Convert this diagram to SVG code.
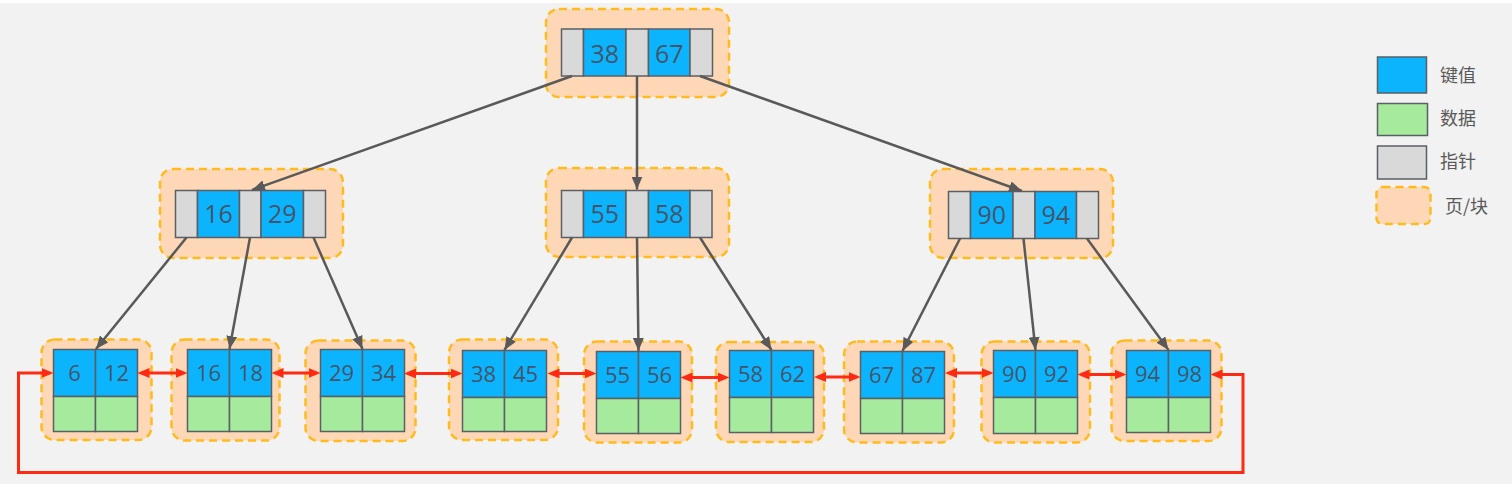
<svg xmlns="http://www.w3.org/2000/svg" width="1512" height="484" viewBox="0 0 1512 484">
<defs>
<style>
.page{fill:#fed8b6;stroke:#ffba1e;stroke-width:2.5;stroke-dasharray:8 5}
.k{fill:#0cb4fd;stroke:#5a5f66;stroke-width:1.5}
.d{fill:#a6eb9d;stroke:#5a5f66;stroke-width:1.5}
.p{fill:#d9d9d9;stroke:#5a5f66;stroke-width:1.5}
.t{font-family:"Open Sans","Liberation Sans",sans-serif;font-size:25px;fill:#44546a;text-anchor:middle}
.lt{font-family:"Open Sans","Liberation Sans",sans-serif;font-size:22px;fill:#44546a;text-anchor:middle}
.lg{font-family:"Noto Sans CJK SC",sans-serif;font-size:18px;fill:#595959}
.ga{fill:none;stroke:#595959;stroke-width:2.5;marker-end:url(#ag)}
.ra{fill:none;stroke:#ff2a14;stroke-width:3;marker-start:url(#ar);marker-end:url(#ar)}
</style>
<marker id="ag" viewBox="0 0 13 11" refX="13" refY="5.5" markerWidth="13" markerHeight="11" markerUnits="userSpaceOnUse" orient="auto"><path d="M0,0 L13,5.5 L0,11 z" fill="#595959"/></marker>
<marker id="ar" viewBox="0 0 12 10" refX="8" refY="5" markerWidth="12" markerHeight="10" markerUnits="userSpaceOnUse" orient="auto-start-reverse"><path d="M0,0 L12,5 L0,10 z" fill="#ff2a14"/></marker>
</defs>
<rect x="0" y="0" width="1512" height="484" fill="#f2f2f2"/>
<rect x="0" y="0" width="1512" height="3" fill="#ffffff"/>

<g id="root">
<rect class="page" x="546" y="9" width="183" height="88" rx="13"/>
<rect class="p" x="561.5" y="29" width="22" height="47"/>
<rect class="k" x="583.5" y="29" width="42.5" height="47"/>
<rect class="p" x="626" y="29" width="22.5" height="47"/>
<rect class="k" x="648.5" y="29" width="41.5" height="47"/>
<rect class="p" x="690" y="29" width="22.5" height="47"/>
<text class="t" x="604.7" y="62.5">38</text>
<text class="t" x="669.2" y="62.5">67</text>
</g>

<g id="n16-29">
<rect class="page" x="160" y="169" width="183" height="89" rx="13"/>
<rect class="p" x="175.5" y="190.5" width="22" height="47"/>
<rect class="k" x="197.5" y="190.5" width="42" height="47"/>
<rect class="p" x="239.5" y="190.5" width="21.5" height="47"/>
<rect class="k" x="261" y="190.5" width="42.5" height="47"/>
<rect class="p" x="303.5" y="190.5" width="22" height="47"/>
<text class="t" x="218.5" y="222.5">16</text>
<text class="t" x="282.2" y="222.5">29</text>
</g>

<g id="n55-58">
<rect class="page" x="546" y="168" width="183" height="89" rx="13"/>
<rect class="p" x="561.5" y="190.5" width="22" height="47"/>
<rect class="k" x="583.5" y="190.5" width="42.5" height="47"/>
<rect class="p" x="626" y="190.5" width="22.5" height="47"/>
<rect class="k" x="648.5" y="190.5" width="41.5" height="47"/>
<rect class="p" x="690" y="190.5" width="22" height="47"/>
<text class="t" x="604.7" y="222.5">55</text>
<text class="t" x="669.2" y="222.5">58</text>
</g>

<g id="n90-94">
<rect class="page" x="930" y="169" width="183" height="89" rx="13"/>
<rect class="p" x="948.5" y="191.5" width="22" height="47"/>
<rect class="k" x="970.5" y="191.5" width="42.5" height="47"/>
<rect class="p" x="1013" y="191.5" width="22" height="47"/>
<rect class="k" x="1035" y="191.5" width="41.5" height="47"/>
<rect class="p" x="1076.5" y="191.5" width="22" height="47"/>
<text class="t" x="991.7" y="223.5">90</text>
<text class="t" x="1055.7" y="223.5">94</text>
</g>

<g id="leaf1">
<rect class="page" x="41.5" y="339.5" width="110" height="100.5" rx="13"/>
<rect class="k" x="53.5" y="349.5" width="42" height="47"/><rect class="k" x="95.5" y="349.5" width="42" height="47"/>
<rect class="d" x="53.5" y="396.5" width="42" height="35"/><rect class="d" x="95.5" y="396.5" width="42" height="35"/>
<text class="lt" x="74.5" y="380.5">6</text><text class="lt" x="116.5" y="380.5">12</text>
</g>
<g id="leaf2">
<rect class="page" x="171.5" y="339.5" width="108" height="101" rx="13"/>
<rect class="k" x="187.5" y="349.5" width="42" height="47"/><rect class="k" x="229.5" y="349.5" width="42" height="47"/>
<rect class="d" x="187.5" y="396.5" width="42" height="35"/><rect class="d" x="229.5" y="396.5" width="42" height="35"/>
<text class="lt" x="208.5" y="380.5">16</text><text class="lt" x="250.5" y="380.5">18</text>
</g>
<g id="leaf3">
<rect class="page" x="305.5" y="340.5" width="110" height="100.5" rx="13"/>
<rect class="k" x="320.5" y="349.5" width="42" height="47"/><rect class="k" x="362.5" y="349.5" width="42" height="47"/>
<rect class="d" x="320.5" y="396.5" width="42" height="35"/><rect class="d" x="362.5" y="396.5" width="42" height="35"/>
<text class="lt" x="341.5" y="380.5">29</text><text class="lt" x="383.5" y="380.5">34</text>
</g>
<g id="leaf4">
<rect class="page" x="449" y="339.5" width="109" height="100.5" rx="13"/>
<rect class="k" x="462.5" y="350.5" width="42" height="47"/><rect class="k" x="504.5" y="350.5" width="42" height="47"/>
<rect class="d" x="462.5" y="397.5" width="42" height="34"/><rect class="d" x="504.5" y="397.5" width="42" height="34"/>
<text class="lt" x="483.5" y="381.5">38</text><text class="lt" x="525.5" y="381.5">45</text>
</g>
<g id="leaf5">
<rect class="page" x="584" y="341.5" width="108" height="101" rx="13"/>
<rect class="k" x="596.5" y="351.5" width="42" height="47"/><rect class="k" x="638.5" y="351.5" width="42" height="47"/>
<rect class="d" x="596.5" y="398.5" width="42" height="35"/><rect class="d" x="638.5" y="398.5" width="42" height="35"/>
<text class="lt" x="617.5" y="382.5">55</text><text class="lt" x="659.5" y="382.5">56</text>
</g>
<g id="leaf6">
<rect class="page" x="716" y="342" width="108" height="100" rx="13"/>
<rect class="k" x="729.5" y="350.5" width="42" height="47"/><rect class="k" x="771.5" y="350.5" width="42" height="47"/>
<rect class="d" x="729.5" y="397.5" width="42" height="35"/><rect class="d" x="771.5" y="397.5" width="42" height="35"/>
<text class="lt" x="750.5" y="381.5">58</text><text class="lt" x="792.5" y="381.5">62</text>
</g>
<g id="leaf7">
<rect class="page" x="844" y="341.5" width="110" height="101" rx="13"/>
<rect class="k" x="860.5" y="351.5" width="42" height="47"/><rect class="k" x="902.5" y="351.5" width="42" height="47"/>
<rect class="d" x="860.5" y="398.5" width="42" height="35"/><rect class="d" x="902.5" y="398.5" width="42" height="35"/>
<text class="lt" x="881.5" y="382.5">67</text><text class="lt" x="923.5" y="382.5">87</text>
</g>
<g id="leaf8">
<rect class="page" x="981.5" y="341.5" width="108.5" height="101" rx="13"/>
<rect class="k" x="993.5" y="350.5" width="42" height="47"/><rect class="k" x="1035.5" y="350.5" width="42" height="47"/>
<rect class="d" x="993.5" y="397.5" width="42" height="36"/><rect class="d" x="1035.5" y="397.5" width="42" height="36"/>
<text class="lt" x="1014.5" y="381.5">90</text><text class="lt" x="1056.5" y="381.5">92</text>
</g>
<g id="leaf9">
<rect class="page" x="1111.5" y="340.5" width="110" height="100.5" rx="13"/>
<rect class="k" x="1126.5" y="350.5" width="42" height="47"/><rect class="k" x="1168.5" y="350.5" width="42" height="47"/>
<rect class="d" x="1126.5" y="397.5" width="42" height="35"/><rect class="d" x="1168.5" y="397.5" width="42" height="35"/>
<text class="lt" x="1147.5" y="381.5">94</text><text class="lt" x="1189.5" y="381.5">98</text>
</g>

<g id="connectors">
<line class="ga" x1="572" y1="76" x2="252" y2="190"/>
<line class="ga" x1="637" y1="76" x2="637" y2="189.5"/>
<line class="ga" x1="700" y1="76" x2="1022" y2="191"/>
<line class="ga" x1="186.5" y1="237.5" x2="96" y2="349"/>
<line class="ga" x1="250" y1="237.5" x2="229.5" y2="349"/>
<line class="ga" x1="313.5" y1="237.5" x2="362.5" y2="349"/>
<line class="ga" x1="572" y1="237.5" x2="504.5" y2="350"/>
<line class="ga" x1="637" y1="237.5" x2="638.5" y2="351"/>
<line class="ga" x1="700" y1="237.5" x2="771.5" y2="350"/>
<line class="ga" x1="960" y1="238.5" x2="902.5" y2="351"/>
<line class="ga" x1="1023.5" y1="238.5" x2="1035.5" y2="350"/>
<line class="ga" x1="1087" y1="238.5" x2="1168.5" y2="350"/>
<line class="ra" x1="141.5" y1="373" x2="183.5" y2="373"/>
<line class="ra" x1="275.5" y1="373" x2="316.5" y2="373"/>
<line class="ra" x1="408" y1="373.5" x2="458.5" y2="373.5"/>
<line class="ra" x1="551.5" y1="373.5" x2="592.5" y2="373.5"/>
<line class="ra" x1="684.5" y1="377.5" x2="725.5" y2="377.5"/>
<line class="ra" x1="818" y1="377" x2="856.5" y2="377"/>
<line class="ra" x1="949" y1="373" x2="989.5" y2="373"/>
<line class="ra" x1="1081.5" y1="374.5" x2="1122.5" y2="374.5"/>
<path class="ra" d="M1214.5,374.5 H1243 V472.5 H18.5 V373 H49.5"/>
</g>

<g id="legend">
<rect class="k" x="1377.5" y="57" width="49" height="36"/>
<rect class="d" x="1377.5" y="103.5" width="50" height="32"/>
<rect class="p" x="1377.5" y="146" width="49" height="33"/>
<rect class="page" x="1376.5" y="187" width="54" height="37" rx="6"/>
<text class="lg" x="1440" y="81.5">键值</text>
<text class="lg" x="1440" y="124.5">数据</text>
<text class="lg" x="1440" y="168">指针</text>
<text class="lg" x="1445" y="213">页/块</text>
</g>
</svg>
